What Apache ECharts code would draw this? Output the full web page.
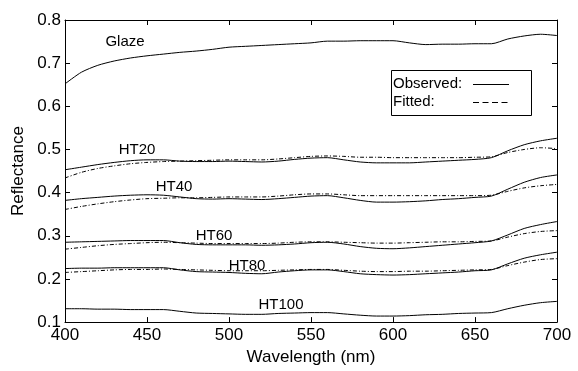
<!DOCTYPE html>
<html>
<head>
<meta charset="utf-8">
<script src="https://cdn.jsdelivr.net/npm/echarts@6/dist/echarts.min.js"></script>
<style>html,body{margin:0;padding:0;background:#fff;}#c{width:578px;height:371px;}</style>
</head>
<body>
<div id="c"></div>
<script>
var wavelengths = [400,410,420,430,440,450,460,470,480,490,500,510,520,530,540,550,560,570,580,590,600,610,620,630,640,650,660,670,680,690,700];
var xTicks = [400,450,500,550,600,650,700];
var yTicks = [0.1,0.2,0.3,0.4,0.5,0.6,0.7,0.8];

var glazeObs = [0.652,0.679,0.695,0.705,0.712,0.717,0.721,0.725,0.728,0.732,0.737,0.739,0.741,0.743,0.745,0.747,0.751,0.751,0.752,0.752,0.752,0.747,0.743,0.744,0.744,0.745,0.745,0.756,0.763,0.767,0.764];
var ht20Obs = [0.453,0.459,0.465,0.470,0.474,0.476,0.476,0.473,0.472,0.472,0.473,0.472,0.471,0.473,0.477,0.480,0.481,0.476,0.471,0.469,0.469,0.469,0.471,0.473,0.475,0.477,0.481,0.497,0.511,0.520,0.526];
var ht20Fit = [0.434,0.447,0.456,0.462,0.467,0.470,0.472,0.473,0.474,0.475,0.476,0.476,0.476,0.478,0.481,0.484,0.485,0.484,0.482,0.482,0.481,0.481,0.481,0.481,0.481,0.482,0.483,0.493,0.500,0.504,0.502];
var ht40Obs = [0.382,0.386,0.389,0.392,0.394,0.395,0.394,0.390,0.386,0.385,0.386,0.385,0.384,0.386,0.389,0.392,0.393,0.388,0.382,0.378,0.378,0.379,0.381,0.384,0.386,0.389,0.392,0.408,0.424,0.435,0.441];
var ht40Fit = [0.361,0.368,0.374,0.379,0.383,0.386,0.387,0.388,0.388,0.389,0.390,0.390,0.390,0.392,0.395,0.397,0.397,0.395,0.393,0.393,0.393,0.393,0.393,0.393,0.393,0.393,0.394,0.403,0.411,0.416,0.419];
var ht60Obs = [0.285,0.286,0.287,0.288,0.289,0.289,0.289,0.284,0.280,0.279,0.279,0.279,0.278,0.279,0.281,0.284,0.285,0.281,0.275,0.271,0.270,0.272,0.275,0.278,0.281,0.284,0.288,0.302,0.317,0.326,0.333];
var ht60Fit = [0.269,0.273,0.277,0.280,0.282,0.284,0.285,0.284,0.283,0.282,0.282,0.282,0.282,0.283,0.285,0.286,0.286,0.285,0.284,0.283,0.283,0.284,0.285,0.286,0.286,0.287,0.288,0.297,0.305,0.310,0.312];
var ht80Obs = [0.224,0.225,0.225,0.226,0.226,0.226,0.226,0.221,0.217,0.216,0.215,0.213,0.212,0.216,0.219,0.221,0.221,0.217,0.212,0.210,0.209,0.210,0.212,0.214,0.216,0.219,0.221,0.235,0.248,0.256,0.262];
var ht80Fit = [0.215,0.217,0.219,0.221,0.222,0.222,0.223,0.222,0.221,0.220,0.219,0.219,0.219,0.220,0.221,0.222,0.222,0.220,0.218,0.217,0.217,0.218,0.218,0.219,0.220,0.221,0.222,0.231,0.239,0.245,0.247];
var ht100Obs = [0.131,0.131,0.130,0.130,0.129,0.129,0.129,0.125,0.121,0.120,0.119,0.118,0.118,0.120,0.121,0.122,0.122,0.119,0.116,0.114,0.114,0.115,0.117,0.118,0.120,0.121,0.122,0.131,0.139,0.145,0.148];

var curveNames = ['Glaze','HT20','HT40','HT60','HT80','HT100'];
var FONT = '"Liberation Sans", Arial, Helvetica, sans-serif';

function pairs(vals){ return wavelengths.map(function(w,i){ return [w, vals[i]]; }); }
function obsSeries(name, vals){
  return {name:name, type:'line', data:pairs(vals), showSymbol:false, smooth:0.25, silent:true,
    lineStyle:{color:'#000', width:1, type:'solid'}, z:3};
}
function fitSeries(name, vals){
  return {name:name+' fit', type:'line', data:pairs(vals), showSymbol:false, smooth:0.25, silent:true,
    lineStyle:{color:'#000', width:1, type:[4,2,1,2]}, z:2};
}

var series = [
  obsSeries('Glaze', glazeObs),
  obsSeries('HT20', ht20Obs), fitSeries('HT20', ht20Fit),
  obsSeries('HT40', ht40Obs), fitSeries('HT40', ht40Fit),
  obsSeries('HT60', ht60Obs), fitSeries('HT60', ht60Fit),
  obsSeries('HT80', ht80Obs), fitSeries('HT80', ht80Fit),
  obsSeries('HT100', ht100Obs)
];

var labelPos = [[125,42],[137,150],[174,187],[214,236],[247,266],[281,305]];
var graphics = curveNames.map(function(n,i){
  return {type:'text', z:10,
    style:{x:labelPos[i][0], y:labelPos[i][1], text:n, fill:'#000', font:'15px '+FONT, align:'center', verticalAlign:'middle'}};
});
// Legend box
graphics.push({type:'rect', shape:{x:391.5, y:70.5, width:140, height:45}, style:{fill:'#fff', stroke:'#000', lineWidth:1}, z:10});
graphics.push({type:'text', z:11, style:{x:393, y:84, text:'Observed:', fill:'#000', font:'15px '+FONT, align:'left', verticalAlign:'middle'}});
graphics.push({type:'text', z:11, style:{x:393, y:102, text:'Fitted:', fill:'#000', font:'15px '+FONT, align:'left', verticalAlign:'middle'}});
graphics.push({type:'line', shape:{x1:473, y1:84.5, x2:509, y2:84.5}, style:{stroke:'#000', lineWidth:1}, z:11});
graphics.push({type:'line', shape:{x1:473, y1:102.5, x2:511, y2:102.5}, style:{stroke:'#000', lineWidth:1, lineDash:[6,3.5]}, z:11});

var axisBase = {
  axisLine:{show:true, onZero:false, lineStyle:{color:'#000', width:1}},
  axisTick:{show:true, inside:true, length:5, lineStyle:{color:'#000'}},
  splitLine:{show:false}
};

var chart = echarts.init(document.getElementById('c'), null, {renderer:'canvas'});
chart.setOption({
  animation:false,
  backgroundColor:'#fff',
  grid:{left:65, right:21, top:20, bottom:44, containLabel:false},
  xAxis:[
    Object.assign({type:'value', min:xTicks[0], max:xTicks[xTicks.length-1], interval:50, position:'bottom',
      name:'Wavelength (nm)', nameLocation:'middle', nameGap:17,
      nameTextStyle:{color:'#000', fontSize:17, fontFamily:FONT},
      axisLabel:{color:'#000', fontSize:17, fontFamily:FONT, margin:5}}, axisBase),
    Object.assign({type:'value', min:xTicks[0], max:xTicks[xTicks.length-1], interval:50, position:'top',
      axisLabel:{show:false}}, axisBase)
  ],
  yAxis:[
    Object.assign({type:'value', min:yTicks[0], max:yTicks[yTicks.length-1], interval:0.1, position:'left',
      name:'Reflectance', nameLocation:'middle', nameGap:34,
      nameTextStyle:{color:'#000', fontSize:17, fontFamily:FONT},
      axisLabel:{color:'#000', fontSize:17, fontFamily:FONT, margin:4, formatter:function(v){return v.toFixed(1);}}}, axisBase),
    Object.assign({type:'value', min:yTicks[0], max:yTicks[yTicks.length-1], interval:0.1, position:'right',
      axisLabel:{show:false}}, axisBase)
  ],
  series:series,
  graphic:graphics
});
</script>
</body>
</html>
